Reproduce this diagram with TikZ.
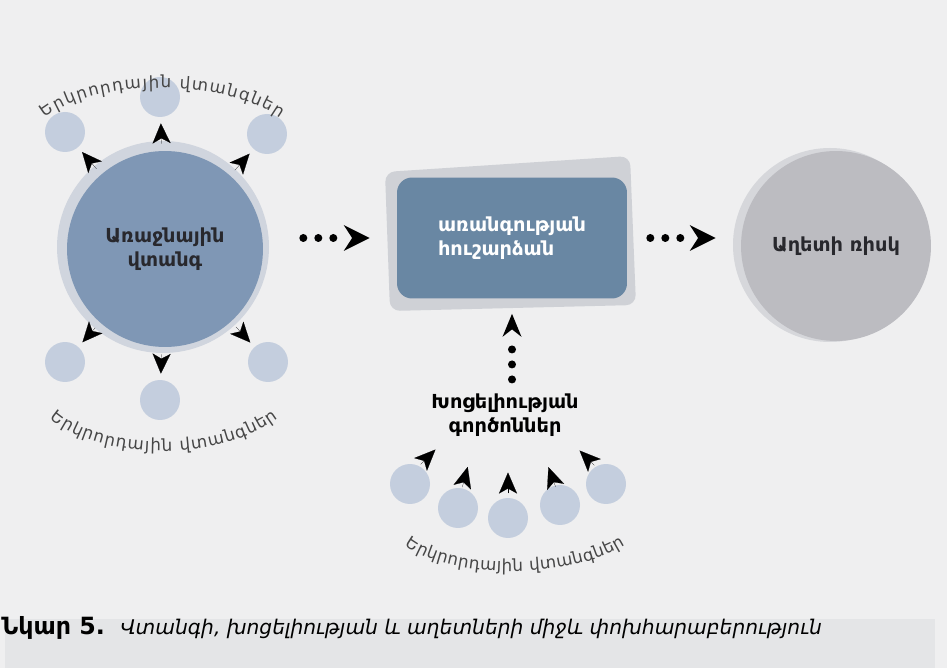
\documentclass[tikz,border=0pt]{standalone}
\usepackage{fontspec}
\setmainfont{DejaVu Sans}
\usetikzlibrary{arrows.meta,positioning,decorations.text}
\definecolor{paper}{RGB}{239,239,240}
\definecolor{band}{RGB}{228,229,231}
\definecolor{haze}{RGB}{208,213,222}
\definecolor{hazard}{RGB}{127,151,181}
\definecolor{minor}{RGB}{196,206,222}
\definecolor{backing}{RGB}{207,209,214}
\definecolor{heritagefill}{RGB}{105,135,163}
\definecolor{greyhaze}{RGB}{214,215,219}
\definecolor{disasterfill}{RGB}{188,188,193}
\definecolor{arctext}{RGB}{70,70,70}
\definecolor{labeltext}{RGB}{40,40,45}

\begin{document}
\begin{tikzpicture}[
		x=0.02cm,
		y=-0.02cm,
		every node/.style={
			inner sep=0pt,
			font=\bfseries\fontsize{11}{13.5}\selectfont,
		},
		bigdisc/.style={
			circle,
			fill=hazard,
			minimum size=3.92cm,
			text=labeltext,
			align=center,
		},
		smalldisc/.style={circle, fill=minor, minimum size=0.8cm},
		panel/.style={
			rectangle,
			rounded corners=0.3cm,
			fill=heritagefill,
			minimum width=4.6cm,
			minimum height=2.42cm,
			text=white,
			align=left,
		},
		headonly/.style={
			line width=0.1pt,
			-{Stealth[length=0.4cm,width=0.36cm,inset=0.1cm]},
			shorten <=0.14cm,
			shorten >=0.12cm,
		},
		tipshape/.style={line width=0.1pt, -{Stealth[length=0.42cm,width=0.36cm,inset=0.1cm]}},
		dotarrow/.style={
			line width=0.16cm,
			line cap=round,
			dash pattern=on 0pt off 0.3cm on 0pt off 0.3cm on 0pt off 5cm,
			-{Stealth[length=0.52cm,width=0.52cm,line width=0pt]},
		},
		arclabel/.style={
			decorate,
			decoration={
				text along path,
				text align={fit to path},
				text color=arctext,
				text={|\mdseries\fontsize{9.5}{12}\selectfont|Երկրորդային վտանգներ},
			},
		},
	]
		\useasboundingbox (0,0) rectangle (947,668);
		\fill[paper] (0,0) rectangle (947,668);
		\fill[band] (5,619) rectangle (935,668);

		\fill[haze] (163,247) circle (106);
		\node[bigdisc] (primary) at (165,249) {Առաջնային\\վտանգ};
		\foreach \name/\x/\y in {sa/65/132, sb/160/97, sc/267/134, sd/65/362, se/160/400, sf/268/362} {
			\node[smalldisc] (\name) at (\x,\y) {};
			\draw[headonly] (primary) -- (\name);
		}
		\path[arclabel] (45,118) .. controls (95,78) and (225,78) .. (280,118);
		\path[arclabel] (50,418) .. controls (100,462) and (220,462) .. (278,418);

		\fill[backing, rounded corners=0.2cm] (385,172) -- (630,156) -- (636,305) -- (390,311) -- cycle;
		\node[panel] (heritage) at (512,238) {առանգության\\ հուշարձան};

		\fill[greyhaze] (830,245) circle (97);
		\node[bigdisc, fill=disasterfill, minimum size=3.8cm] (disaster) at (836,246) {Աղետի ռիսկ};

		\node[align=center, text=black] (factors) at (505,415) {Խոցելիության\\գործոններ};
		\foreach \name/\x/\y/\dx/\dy/\ang in {f1/410/484/18/-27/45, f2/458/508/7/-31/75, f3/508/518/0/-35/90, f4/560/505/-8/-28/110, f5/606/484/-19/-26/135} {
			\node[smalldisc] (\name) at (\x,\y) {};
			\draw[tipshape] (\name.center) ++(\dx,\dy) ++(\ang+180:0.21cm) -- ++(\ang:0.42cm);
		}
		\path[arclabel] (405,545) .. controls (450,580) and (570,580) .. (625,545);

		\draw[dotarrow, shorten <=0.8cm, shorten >=0.54cm] (primary.east |- heritage.west) -- (heritage.west);
		\draw[dotarrow, shorten <=0.46cm, shorten >=0.5cm] (heritage.east) -- (disaster.west |- heritage.east);
		\draw[dotarrow, shorten <=0.28cm, shorten >=0.3cm, -{Stealth[length=0.46cm,width=0.38cm,line width=0pt]}] (heritage.south |- factors.north) -- (heritage.south);

		\node[anchor=base west, font=\bfseries\fontsize{13.5}{16}\selectfont] (fignum) at (1,635) {Նկար 5.};
		\node[base right=0.3cm of fignum, font=\itshape\fontsize{11.5}{14}\selectfont] (caption) {Վտանգի, խոցելիության և աղետների միջև փոխհարաբերություն};
\end{tikzpicture}
\end{document}
